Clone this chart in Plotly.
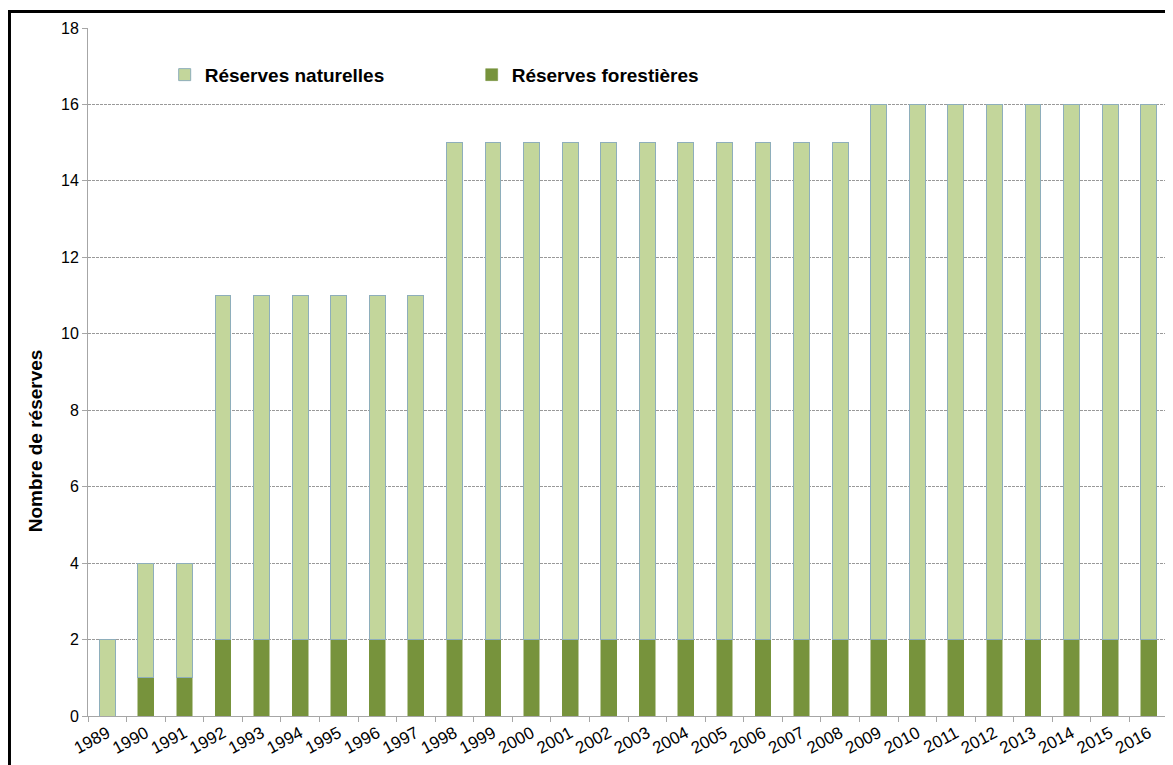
import plotly.graph_objects as go

years = [str(y) for y in range(1989, 2017)]
forestieres = [0, 1, 1] + [2] * 6 + [2] * 11 + [2] * 8
naturelles = [2, 3, 3] + [9] * 6 + [13] * 11 + [14] * 8

y_ticks = [0, 2, 4, 6, 8, 10, 12, 14, 16, 18]

FONT = "Arial, Liberation Sans, sans-serif"

fig = go.Figure()
fig.add_trace(go.Bar(
    x=years, y=forestieres, name="Réserves forestières",
    marker=dict(color="#77933c", line=dict(color="#77933c", width=0.5)),
    legendrank=2,
))
fig.add_trace(go.Bar(
    x=years, y=naturelles, name="Réserves naturelles",
    marker=dict(color="#c3d69b", line=dict(color="#8eaebb", width=1)),
    legendrank=1,
))

# the page body adds an 8px offset, so the figure is 8px smaller
fig.update_layout(
    width=1165, height=757,
    barmode="stack", bargap=0.59,
    paper_bgcolor="white", plot_bgcolor="white",
    margin=dict(l=80, r=5, t=20, b=49),
    font=dict(family=FONT, color="#000000", size=16),
    showlegend=True,
    legend=dict(
        orientation="h", x=0.071, xanchor="left", y=0.932, yanchor="middle",
        font=dict(family=FONT, size=19, color="#000000", weight="bold"),
        entrywidth=262, entrywidthmode="pixels",
        traceorder="normal", itemwidth=30, bgcolor="rgba(0,0,0,0)",
    ),
    xaxis=dict(
        type="category", tickson="boundaries", ticks="outside", ticklen=5,
        tickcolor="#a6a6a6", showline=True, linecolor="#a6a6a6", linewidth=1,
        tickangle=-28, tickfont=dict(size=17), showgrid=False,
    ),
    yaxis=dict(
        range=[0, 18], tickvals=y_ticks, ticks="outside", ticklen=5,
        tickcolor="#a6a6a6", showline=True, linecolor="#a6a6a6", linewidth=1,
        showgrid=True, gridcolor="#999999", gridwidth=1, griddash="3px,1px",
        tickfont=dict(size=16), zeroline=False,
    ),
    annotations=[dict(
        text="Nombre de réserves", textangle=-90, showarrow=False,
        xref="paper", yref="paper", x=-0.0486, y=0.4, xanchor="center", yanchor="middle",
        font=dict(family=FONT, size=19, color="#000000", weight="bold"),
    )],
    shapes=[dict(
        type="rect", xref="paper", yref="paper",
        x0=-0.0727, x1=1.2, y0=-0.3, y1=1.024,
        line=dict(color="#000000", width=3), fillcolor="rgba(0,0,0,0)", layer="above",
    )],
)

fig.write_html("out.html")
